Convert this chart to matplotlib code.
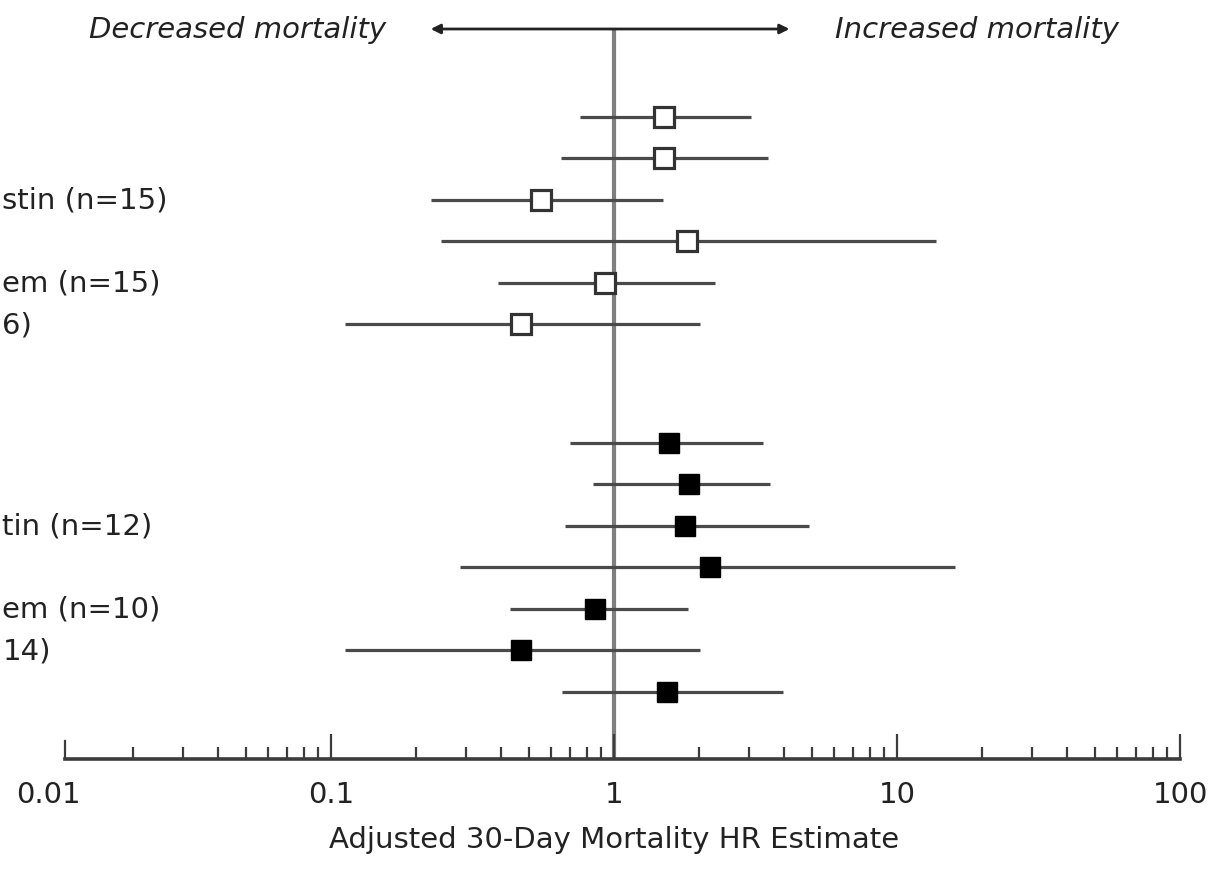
import matplotlib
matplotlib.use("Agg")
import matplotlib.pyplot as plt
import matplotlib.transforms as mtransforms
from matplotlib.ticker import LogLocator, NullFormatter, FixedLocator
import numpy as np

# hazard ratios and 95% CI
open_hr = [1.50, 1.50, 0.55, 1.81, 0.93, 0.47]
open_lo = [0.76, 0.65, 0.225, 0.245, 0.39, 0.112]
open_hi = [3.06, 3.50, 1.49, 13.7, 2.27, 2.02]

filled_hr = [1.57, 1.84, 1.78, 2.18, 0.86, 0.47, 1.54]
filled_lo = [0.70, 0.84, 0.67, 0.285, 0.43, 0.112, 0.655]
filled_hi = [3.35, 3.57, 4.90, 16.0, 1.82, 2.02, 3.97]

# visible (cropped) fragments of the row labels
open_labels = {2: "stin (n=15)", 4: "em (n=15)", 5: "6)"}
filled_labels = {2: "tin (n=12)", 4: "em (n=10)", 5: "14)"}

tick_vals = [0.01, 0.1, 1, 10, 100]
tick_text = ["0.01", "0.1", "1", "10", "100"]

plt.rcParams['font.family'] = ['DejaVu Sans']

def main():
	fig = plt.figure(figsize=(12.22, 8.7), dpi=100)
	ax = fig.add_axes([48/1222, 1 - 760/870, (1180-48)/1222, (760-30)/870])

	y_open = np.arange(len(open_hr))
	y_filled = 7.85 + np.arange(len(filled_hr))

	ax.axvline(1, color="#7f7f7f", lw=3, zorder=1)

	ci_col = "#4a4a4a"
	ax.hlines(y_open, open_lo, open_hi, color=ci_col, lw=2.3, zorder=2)
	ax.hlines(y_filled, filled_lo, filled_hi, color=ci_col, lw=2.3, zorder=2)
	ax.plot(open_hr, y_open, "s", ms=14, mfc="white", mec="#333333", mew=2.3, ls="none", zorder=3)
	ax.plot(filled_hr, y_filled, "s", ms=15, mfc="black", mec="black", mew=1, ls="none", zorder=3)

	ax.set_xscale("log")
	ax.set_xlim(0.01, 100)
	ax.set_ylim(15.47, -2.12)

	for s in ["top", "left", "right"]:
		ax.spines[s].set_visible(False)
	ax.spines["bottom"].set_color("#3c3c3c")
	ax.spines["bottom"].set_linewidth(2.6)
	ax.spines["bottom"].set_bounds(0.0115, 100)
	ax.set_yticks([])

	ax.xaxis.set_major_locator(FixedLocator(tick_vals))
	ax.set_xticklabels(tick_text)
	ax.xaxis.set_minor_locator(LogLocator(base=10, subs=np.arange(2, 10)))
	ax.xaxis.set_minor_formatter(NullFormatter())
	ax.tick_params(axis="x", which="major", direction="in", length=18, width=1.6,
		color="#3c3c3c", labelsize=21, pad=15, labelcolor="#222222")
	ax.tick_params(axis="x", which="minor", direction="in", length=9, width=1.6, color="#3c3c3c")
	# first major tick sits at the start of the drawn axis line
	ax.xaxis.get_major_ticks()[0].tick1line.set_visible(False)
	ax.plot([0.0115, 0.0115], [0, 18 / 730], transform=ax.get_xaxis_transform(),
		color="#3c3c3c", lw=1.6, clip_on=False)

	ax.set_xlabel("Adjusted 30-Day Mortality HR Estimate", fontsize=21, color="#222222", labelpad=12)

	# direction arrow and captions along the top
	ax.annotate("", xy=(0.225, 1.0), xytext=(4.17, 1.0), xycoords=("data", "axes fraction"),
		arrowprops=dict(arrowstyle="<|-|>", color="#222222", lw=2, mutation_scale=14,
			shrinkA=0, shrinkB=0), annotation_clip=False)
	ax.text(0.156, 1.0, "Decreased mortality", transform=ax.get_xaxis_transform(),
		ha="right", va="center", fontsize=21, style="italic", color="#222222")
	ax.text(6.05, 1.0, "Increased mortality", transform=ax.get_xaxis_transform(),
		ha="left", va="center", fontsize=21, style="italic", color="#222222")

	# cropped row labels at the left edge
	tr = mtransforms.blended_transform_factory(fig.transFigure, ax.transData)
	for k, t in open_labels.items():
		ax.text(0.002, y_open[k], t, transform=tr, ha="left", va="center", fontsize=21, color="#222222")
	for k, t in filled_labels.items():
		ax.text(0.002, y_filled[k], t, transform=tr, ha="left", va="center", fontsize=21, color="#222222")

	fig.savefig("out.png", dpi=100)

if __name__ == "__main__":
	main()
